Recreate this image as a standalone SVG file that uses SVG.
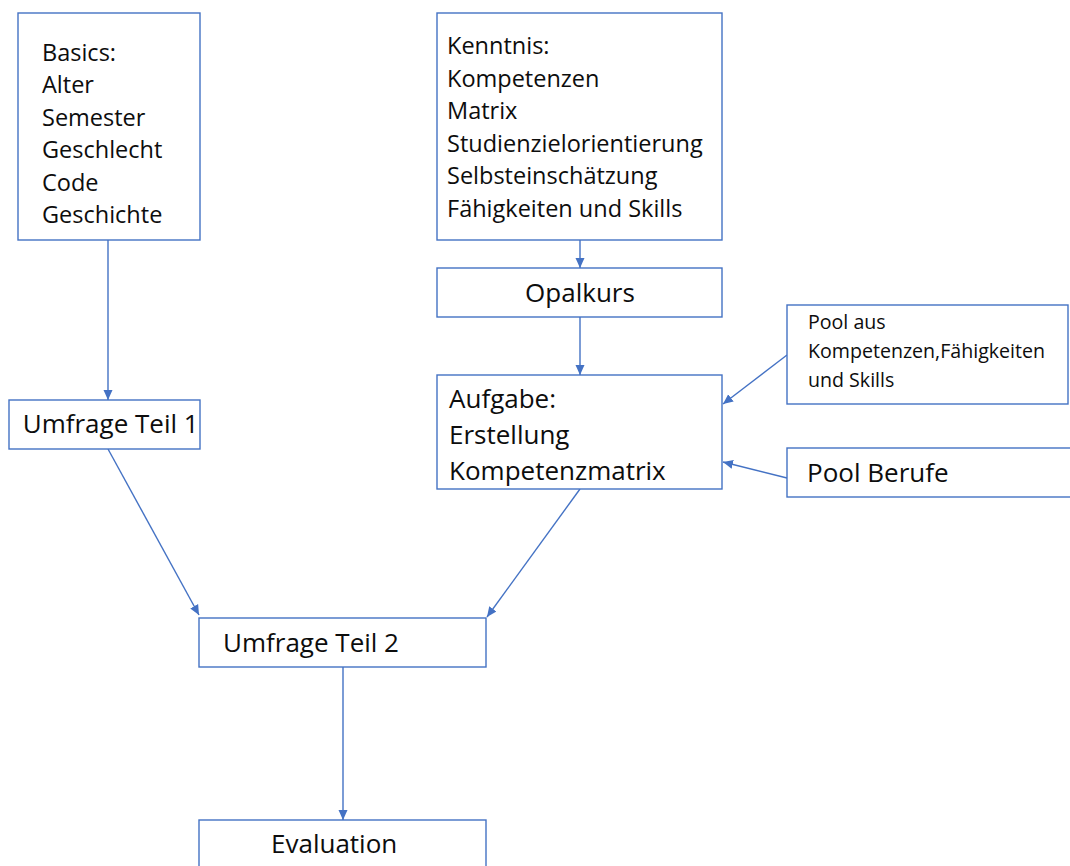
<svg xmlns="http://www.w3.org/2000/svg" width="1070" height="866" viewBox="0 0 1070 866">
<style>
.box{fill:#fff;stroke:#4472C4;stroke-width:1.4}
.t{font-family:"Open Sans","Liberation Sans",sans-serif;fill:#0d0d0d}
.s23{font-size:23.5px}
.s26{font-size:26px}
.s19{font-size:19.6px}
.c{fill:none;stroke:#4472C4;stroke-width:1.4}
</style>
<defs>
<marker id="ah" markerUnits="userSpaceOnUse" markerWidth="10" markerHeight="10" viewBox="0 0 10 10" refX="10" refY="5" orient="auto">
<path d="M0,0.5 L10,5 L0,9.5 z" fill="#4472C4"/>
</marker>
</defs>
<rect width="1070" height="866" fill="#fff"/>
<g id="connectors">
<line class="c" x1="108" y1="240" x2="108" y2="400" marker-end="url(#ah)"/>
<line class="c" x1="580" y1="240" x2="580" y2="268" marker-end="url(#ah)"/>
<line class="c" x1="580" y1="317" x2="580" y2="375" marker-end="url(#ah)"/>
<line class="c" x1="787" y1="355" x2="723" y2="404" marker-end="url(#ah)"/>
<line class="c" x1="787" y1="478" x2="723" y2="462" marker-end="url(#ah)"/>
<line class="c" x1="108" y1="449" x2="199" y2="615" marker-end="url(#ah)"/>
<line class="c" x1="580" y1="489" x2="487" y2="617" marker-end="url(#ah)"/>
<line class="c" x1="343" y1="667" x2="343" y2="820" marker-end="url(#ah)"/>
</g>
<g id="basics">
<rect class="box" x="18" y="13" width="182" height="227"/>
<text class="t s23" x="42" y="61">Basics:</text>
<text class="t s23" x="42" y="93.4">Alter</text>
<text class="t s23" x="42" y="125.8">Semester</text>
<text class="t s23" x="42" y="158.2">Geschlecht</text>
<text class="t s23" x="42" y="190.6">Code</text>
<text class="t s23" x="42" y="223">Geschichte</text>
</g>
<g id="kenntnis">
<rect class="box" x="437" y="13" width="285" height="227"/>
<text class="t s23" x="447" y="54">Kenntnis:</text>
<text class="t s23" x="447" y="86.6">Kompetenzen</text>
<text class="t s23" x="447" y="119.2">Matrix</text>
<text class="t s23" x="447" y="151.8">Studienzielorientierung</text>
<text class="t s23" x="447" y="184.4">Selbsteinschätzung</text>
<text class="t s23" x="447" y="217">Fähigkeiten und Skills</text>
</g>
<g id="opalkurs">
<rect class="box" x="437" y="268" width="285" height="49"/>
<text class="t s26" x="580" y="302" text-anchor="middle">Opalkurs</text>
</g>
<g id="aufgabe">
<rect class="box" x="437" y="375" width="285" height="114"/>
<text class="t s26" x="449" y="408">Aufgabe:</text>
<text class="t s26" x="449" y="444">Erstellung</text>
<text class="t s26" x="449" y="480">Kompetenzmatrix</text>
</g>
<g id="poolaus">
<rect class="box" x="787" y="305" width="281" height="99"/>
<text class="t s19" x="808" y="329">Pool aus</text>
<text class="t s19" x="808" y="358">Kompetenzen,Fähigkeiten</text>
<text class="t s19" x="808" y="387">und Skills</text>
</g>
<g id="poolberufe">
<rect class="box" x="787" y="448" width="290" height="49"/>
<text class="t s26" x="807" y="482">Pool Berufe</text>
</g>
<g id="umfrage1">
<rect class="box" x="9" y="400" width="191" height="49"/>
<text class="t s26" x="22.7" y="433">Umfrage Teil 1</text>
</g>
<g id="umfrage2">
<rect class="box" x="199" y="618" width="287" height="49"/>
<text class="t s26" x="223" y="652">Umfrage Teil 2</text>
</g>
<g id="evaluation">
<rect class="box" x="199" y="820" width="287" height="60"/>
<text class="t s26" x="271" y="853">Evaluation</text>
</g>
</svg>
